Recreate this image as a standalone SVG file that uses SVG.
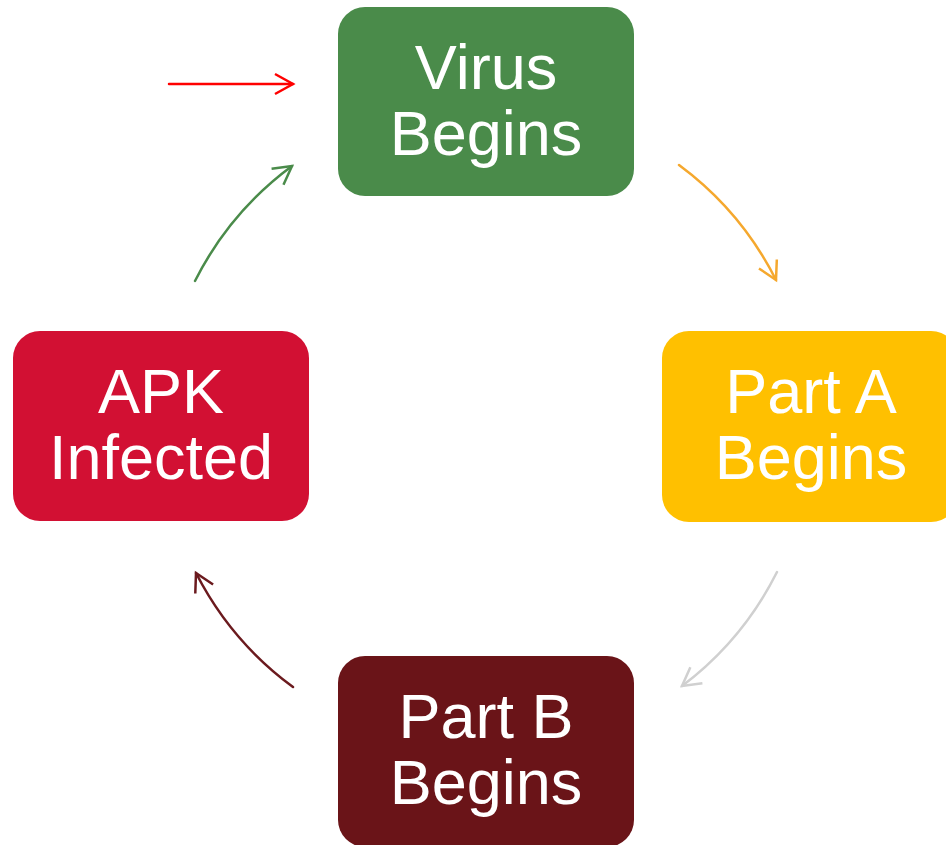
<svg xmlns="http://www.w3.org/2000/svg" width="946" height="845" viewBox="0 0 946 845">
<style>
.lbl{font-family:"Liberation Sans",Arial,sans-serif;font-size:63px;fill:#ffffff;text-anchor:middle}
.c{fill:none;stroke-width:2.5;stroke-linecap:round}
</style>
<defs>
<marker id="mRed" markerUnits="userSpaceOnUse" viewBox="-22 -12 26 24" refX="0" refY="0" markerWidth="26" markerHeight="24" orient="auto" overflow="visible"><path d="M-18,-10 L0,0 L-18,10" fill="none" stroke="#FF0000" stroke-width="2.5"/></marker>
<marker id="mOrange" markerUnits="userSpaceOnUse" viewBox="-22 -12 26 24" refX="0" refY="0" markerWidth="26" markerHeight="24" orient="auto" overflow="visible"><path d="M-18,-10 L0,0 L-18,10" fill="none" stroke="#F5A82E" stroke-width="2.5"/></marker>
<marker id="mGray" markerUnits="userSpaceOnUse" viewBox="-22 -12 26 24" refX="0" refY="0" markerWidth="26" markerHeight="24" orient="auto" overflow="visible"><path d="M-18,-10 L0,0 L-18,10" fill="none" stroke="#D0D0D0" stroke-width="2.5"/></marker>
<marker id="mDark" markerUnits="userSpaceOnUse" viewBox="-22 -12 26 24" refX="0" refY="0" markerWidth="26" markerHeight="24" orient="auto" overflow="visible"><path d="M-18,-10 L0,0 L-18,10" fill="none" stroke="#6B1A1E" stroke-width="2.5"/></marker>
<marker id="mGreen" markerUnits="userSpaceOnUse" viewBox="-22 -12 26 24" refX="0" refY="0" markerWidth="26" markerHeight="24" orient="auto" overflow="visible"><path d="M-18,-10 L0,0 L-18,10" fill="none" stroke="#4A8B4A" stroke-width="2.5"/></marker>
</defs>
<rect width="946" height="845" fill="#ffffff"/>
<g id="connectors">
<path class="c" d="M169,84 L293,84" stroke="#FF0000" marker-end="url(#mRed)"/>
<path class="c" d="M679,165 A325,325 0 0 1 776,280" stroke="#F5A82E" marker-end="url(#mOrange)"/>
<path class="c" d="M777,572 A325,325 0 0 1 682,686" stroke="#D0D0D0" marker-end="url(#mGray)"/>
<path class="c" d="M293,687 A325,325 0 0 1 196,573" stroke="#6B1A1E" marker-end="url(#mDark)"/>
<path class="c" d="M195,281 A325,325 0 0 1 292,166" stroke="#4A8B4A" marker-end="url(#mGreen)"/>
</g>
<g id="virus">
<rect x="338" y="7" width="296" height="189" rx="27" fill="#4A8B4A"/>
<text class="lbl" x="486" y="89">Virus</text>
<text class="lbl" x="486" y="155">Begins</text>
</g>
<g id="partA">
<rect x="662" y="331" width="296" height="191" rx="27" fill="#FFC000"/>
<text class="lbl" x="811" y="413">Part A</text>
<text class="lbl" x="811" y="479">Begins</text>
</g>
<g id="partB">
<rect x="338" y="656" width="296" height="191" rx="27" fill="#6A1418"/>
<text class="lbl" x="486" y="738">Part B</text>
<text class="lbl" x="486" y="804">Begins</text>
</g>
<g id="apk">
<rect x="13" y="331" width="296" height="190" rx="27" fill="#D21033"/>
<text class="lbl" x="161" y="413">APK</text>
<text class="lbl" x="161" y="479">Infected</text>
</g>
</svg>
